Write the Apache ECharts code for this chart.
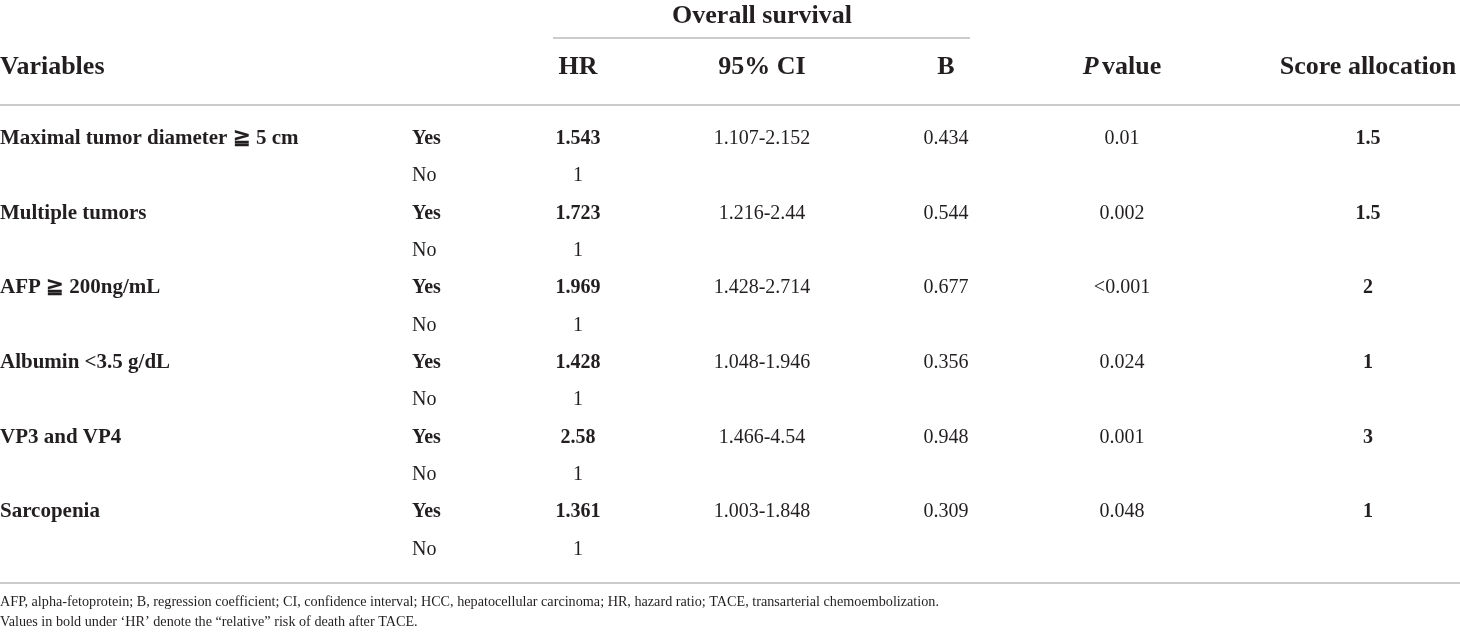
<!DOCTYPE html>
<html>
<head>
<meta charset="utf-8">
<script src="https://cdn.jsdelivr.net/npm/echarts@6/dist/echarts.min.js"></script>
<style>
  html, body { margin: 0; padding: 0; background: #fff; }
  #box { width: 1460px; height: 637px; }
</style>
</head>
<body>
<div id="box"></div>
<script>
// 表格数据
var variables = ['Maximal tumor diameter \u2267 5 cm', 'Multiple tumors', 'AFP \u2267 200ng/mL', 'Albumin <3.5 g/dL', 'VP3 and VP4', 'Sarcopenia'];
var hrValues = ['1.543', '1.723', '1.969', '1.428', '2.58', '1.361'];
var ciValues = ['1.107-2.152', '1.216-2.44', '1.428-2.714', '1.048-1.946', '1.466-4.54', '1.003-1.848'];
var bValues = ['0.434', '0.544', '0.677', '0.356', '0.948', '0.309'];
var pValues = ['0.01', '0.002', '<0.001', '0.024', '0.001', '0.048'];
var scoreValues = ['1.5', '1.5', '2', '1', '3', '1'];
var refHr = '1';
var footnotes = [
    'AFP, alpha-fetoprotein; B, regression coefficient; CI, confidence interval; HCC, hepatocellular carcinoma; HR, hazard ratio; TACE, transarterial chemoembolization.',
    'Values in bold under \u2018HR\u2019 denote the \u201crelative\u201d risk of death after TACE.'
];

// 每个变量两行：Yes / No
var rows = [];
variables.forEach(function (v, i) {
    rows.push([rows.length, v, 'Yes', hrValues[i], ciValues[i], bValues[i], pValues[i], scoreValues[i], 1]);
    rows.push([rows.length, '', 'No', refHr, '', '', '', '', 0]);
});

var FONT = '"Liberation Serif", "DejaVu Serif", serif';
var INK = '#231f20';
var RULE = '#cccccc';
var HEAD = 'bold 26px ' + FONT;

// 列位置（x 轴数值）和对齐方式
var cols = [
    { x: 0, align: 'left', size: 21 },      // 变量名
    { x: 412, align: 'left', size: 20 },    // Yes / No
    { x: 578, align: 'center', size: 20 },  // HR
    { x: 762, align: 'center', size: 20 },  // 95% CI
    { x: 946, align: 'center', size: 20 },  // B
    { x: 1122, align: 'center', size: 20 }, // P value
    { x: 1368, align: 'center', size: 20 }  // Score allocation
];

var myChart = echarts.init(document.getElementById('box'));

function cellText(api, col, row, text, bold) {
    var p = api.coord([cols[col].x, row]);
    return {
        type: 'text',
        style: {
            x: p[0],
            y: p[1],
            text: text,
            textAlign: cols[col].align,
            textVerticalAlign: 'middle',
            fill: INK,
            font: (bold ? 'bold ' : '') + cols[col].size + 'px ' + FONT
        }
    };
}

function headText(x, y, text, align) {
    return {
        type: 'text',
        style: { x: x, y: y, text: text, textAlign: align, textVerticalAlign: 'middle', fill: INK, font: HEAD }
    };
}

var option = {
    backgroundColor: '#fff',
    animation: false,
    grid: {
        left: 0,
        right: 0,
        top: 120,
        bottom: 69
    },
    xAxis: {
        type: 'value',
        min: 0,
        max: 1460,
        show: false
    },
    yAxis: {
        type: 'category',
        inverse: true,
        data: rows.map(function (r) { return r[0]; }),
        show: false
    },
    // 表头、横线、脚注
    graphic: [
        headText(762, 16, 'Overall survival', 'center'),
        { type: 'line', shape: { x1: 553, y1: 38, x2: 970, y2: 38 }, style: { stroke: RULE, lineWidth: 2 } },
        headText(0, 67, 'Variables', 'left'),
        headText(578, 67, 'HR', 'center'),
        headText(762, 67, '95% CI', 'center'),
        headText(946, 67, 'B', 'center'),
        {
            type: 'text',
            style: {
                x: 1122, y: 67, textAlign: 'center', textVerticalAlign: 'middle',
                text: '{i|P} {n|value}',
                fill: INK,
                rich: {
                    i: { fontFamily: FONT, fontSize: 26, fontStyle: 'italic', fontWeight: 'bold', fill: INK },
                    n: { fontFamily: FONT, fontSize: 26, fontWeight: 'bold', fill: INK }
                }
            }
        },
        headText(1368, 67, 'Score allocation', 'center'),
        { type: 'line', shape: { x1: 0, y1: 105, x2: 1460, y2: 105 }, style: { stroke: RULE, lineWidth: 2 } },
        { type: 'line', shape: { x1: 0, y1: 583, x2: 1460, y2: 583 }, style: { stroke: RULE, lineWidth: 2 } },
        { type: 'text', style: { x: 0, y: 602, text: footnotes[0], textAlign: 'left', textVerticalAlign: 'middle', fill: INK, font: '14.2px ' + FONT } },
        { type: 'text', style: { x: 0, y: 622, text: footnotes[1], textAlign: 'left', textVerticalAlign: 'middle', fill: INK, font: '14.2px ' + FONT } }
    ],
    series: [
        {
            type: 'custom',
            data: rows,
            renderItem: function (params, api) {
                var r = rows[params.dataIndex];
                var yes = r[8] === 1;
                var children = [];
                for (var c = 0; c < cols.length; c++) {
                    var t = r[c + 1];
                    if (!t) continue;
                    var bold = c === 0 || c === 6 || (yes && (c === 1 || c === 2));
                    children.push(cellText(api, c, r[0], t, bold));
                }
                return { type: 'group', children: children };
            }
        }
    ]
};

myChart.setOption(option);
</script>
</body>
</html>
